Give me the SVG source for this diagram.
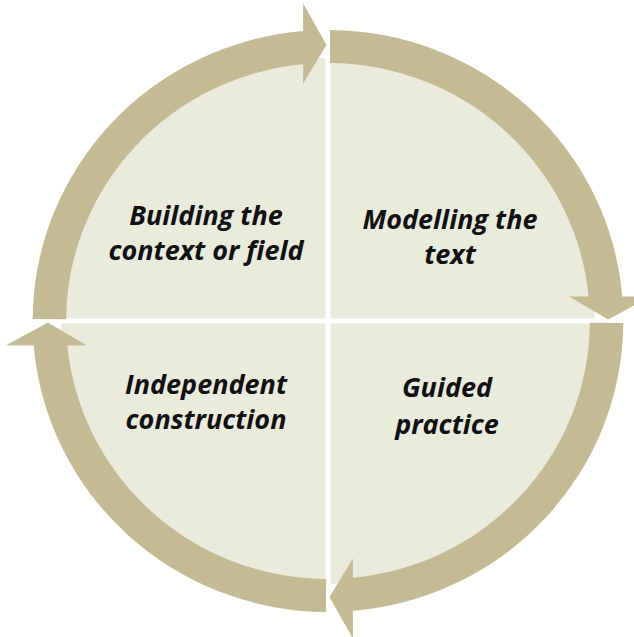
<svg xmlns="http://www.w3.org/2000/svg" xmlns:xlink="http://www.w3.org/1999/xlink" width="634" height="637" viewBox="0 0 634 637">
  <style>
    .quad { fill: #E9EBDC; }
    .ring { fill: #C4BB95; }
    .lbl { font-family: "Open Sans", "Liberation Sans", sans-serif; font-weight: bold; font-style: italic; font-size: 27px; fill: #111111; text-anchor: middle; }
  </style>
  <defs>
    <g id="arcArrow">
      <path d="M 2.03,-290.99 A 291 291 0 0 1 290.0,-24.2 L 257.0,-22.0 A 258 258 0 0 0 1.80,-257.99 Z"/>
      <path d="M 237.5,-24.5 L 317.5,-24.5 L 276.0,-1.5 Z"/>
    </g>
  </defs>
  <rect width="634" height="637" fill="#FFFFFF"/>
  <g transform="translate(328,321) scale(1.015,1)">
    <g id="node-building">
      <path class="quad" d="M -2.5,-2.5 L -2.5,-263 A 263 263 0 0 0 -263,-2.5 Z"/>
    </g>
    <g id="node-modelling">
      <path class="quad" d="M 2.5,-2.5 L 263,-2.5 A 263 263 0 0 0 2.5,-263 Z"/>
    </g>
    <g id="node-guided">
      <path class="quad" d="M 2.5,2.5 L 2.5,263 A 263 263 0 0 0 263,2.5 Z"/>
    </g>
    <g id="node-independent">
      <path class="quad" d="M -2.5,2.5 L -263,2.5 A 263 263 0 0 0 -2.5,263 Z"/>
    </g>
    <g id="connectors" class="ring">
      <use xlink:href="#arcArrow"/>
      <use xlink:href="#arcArrow" transform="rotate(90)"/>
      <use xlink:href="#arcArrow" transform="rotate(180)"/>
      <use xlink:href="#arcArrow" transform="rotate(270)"/>
    </g>
  </g>
  <g id="labels">
    <text class="lbl" x="206" y="225">Building the</text>
    <text class="lbl" x="206" y="260">context or field</text>
    <text class="lbl" x="450" y="229">Modelling the</text>
    <text class="lbl" x="450" y="264">text</text>
    <text class="lbl" x="206" y="394">Independent</text>
    <text class="lbl" x="206" y="429">construction</text>
    <text class="lbl" x="447" y="397">Guided</text>
    <text class="lbl" x="447" y="434">practice</text>
  </g>
</svg>
